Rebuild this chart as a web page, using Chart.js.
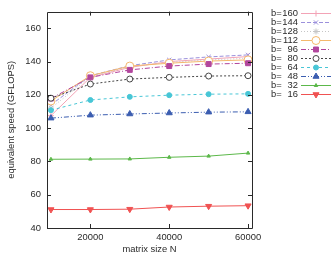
<!DOCTYPE html>
<html>
<head>
<meta charset="utf-8">
<script src="https://cdn.jsdelivr.net/npm/chart.js@4/dist/chart.umd.min.js"></script>
<style>
  html, body { margin: 0; padding: 0; background: #fff; }
  #wrap { width: 333px; height: 253px; }
</style>
</head>
<body>
<div id="wrap"><canvas id="speedChart" width="333" height="253"></canvas></div>
<script>
// matrix sizes on the x axis
var matrix_sizes = [10000, 20000, 30000, 40000, 50000, 60000];
var block_labels = ["b=160", "b=144", "b=128", "b=112", "b= 96", "b= 80", "b= 64", "b= 48", "b= 32", "b= 16"];

// equivalent speed (GFLOPS), one list per block size
var b160 = [107.5, 130.5, 136.5, 140.0, 141.5, 143.0];
var b144 = [114.0, 131.5, 137.5, 141.0, 142.8, 144.0];
var b128 = [112.0, 131.0, 137.0, 139.5, 141.0, 142.0];
var b112 = [116.3, 131.5, 137.3, 139.0, 140.3, 141.0];
var b96  = [117.8, 130.5, 135.0, 137.3, 138.5, 139.0];
var b80  = [118.0, 126.5, 129.5, 130.5, 131.3, 131.5];
var b64  = [110.8, 116.9, 118.8, 119.8, 120.4, 120.6];
var b48  = [106.0, 107.8, 108.5, 109.1, 109.6, 109.8];
var b32  = [81.3, 81.4, 81.5, 82.5, 83.2, 85.0];
var b16  = [51.1, 51.1, 51.3, 52.6, 53.1, 53.4];

var x_ticks = [20000, 40000, 60000];
var y_ticks = [40, 60, 80, 100, 120, 140, 160];

var series_values = [b160, b144, b128, b112, b96, b80, b64, b48, b32, b16];

// look of each series (gnuplot-like)
var styles = [
    {color: "#f3a3b6", dash: [],            point: "cross",    radius: 3,   fill: "#f3a3b6", rot: 0},
    {color: "#9b90dc", dash: [4, 2],        point: "crossRot", radius: 3,   fill: "#9b90dc", rot: 0},
    {color: "#c6c6c6", dash: [1, 2],        point: "star",     radius: 3,   fill: "#c6c6c6", rot: 0},
    {color: "#f4b86c", dash: [],            point: "circle",   radius: 4,   fill: "#ffffff", rot: 0},
    {color: "#b2469d", dash: [5, 2, 1, 2],  point: "rect",     radius: 3.5, fill: "#b2469d", rot: 0},
    {color: "#454545", dash: [2, 2],        point: "circle",   radius: 3,   fill: "#ffffff", rot: 0},
    {color: "#48c6d6", dash: [3, 3],        point: "circle",   radius: 2.5, fill: "#48c6d6", rot: 0},
    {color: "#3b5db0", dash: [5, 2, 1, 2, 1, 2], point: "triangle", radius: 3.5, fill: "#3b5db0", rot: 0},
    {color: "#5cb84a", dash: [],            point: "triangle", radius: 2,   fill: "#5cb84a", rot: 0},
    {color: "#f05252", dash: [],            point: "triangle", radius: 3.5, fill: "#f05252", rot: 180}
];

var font_family = '"Liberation Sans", Arial, Helvetica, sans-serif';
var text_color = "#2a2a2a";

var datasets = [];
for (var i = 0; i < series_values.length; i++) {
    var s = styles[i];
    var points = [];
    for (var j = 0; j < matrix_sizes.length; j++) {
        points.push({x: matrix_sizes[j], y: series_values[i][j]});
    }
    datasets.push({
        label: block_labels[i],
        data: points,
        borderColor: s.color,
        borderWidth: 1,
        borderDash: s.dash,
        backgroundColor: s.fill,
        pointStyle: s.point,
        pointRadius: s.radius,
        pointRotation: s.rot,
        pointBorderColor: s.color,
        pointBackgroundColor: s.fill,
        pointBorderWidth: 1,
        tension: 0,
        fill: false,
        order: series_values.length - i
    });
}

// box round the plot with inward ticks on all four sides
var framePlugin = {
    id: "frame",
    afterDatasetsDraw: function(chart) {
        var ctx = chart.ctx;
        var area = chart.chartArea;
        var xs = chart.scales.x, ys = chart.scales.y;
        var len = 4;
        ctx.save();
        ctx.strokeStyle = "#2a2a2a";
        ctx.lineWidth = 1;
        ctx.setLineDash([]);
        ctx.beginPath();
        ctx.rect(Math.round(area.left) + 0.5, Math.round(area.top) + 0.5,
                 Math.round(area.right - area.left), Math.round(area.bottom - area.top));
        for (var i = 0; i < x_ticks.length; i++) {
            var px = Math.round(xs.getPixelForValue(x_ticks[i])) + 0.5;
            ctx.moveTo(px, area.bottom); ctx.lineTo(px, area.bottom - len);
            ctx.moveTo(px, area.top); ctx.lineTo(px, area.top + len);
        }
        for (var k = 0; k < y_ticks.length; k++) {
            var py = Math.round(ys.getPixelForValue(y_ticks[k])) + 0.5;
            ctx.moveTo(area.left, py); ctx.lineTo(area.left + len, py);
            ctx.moveTo(area.right, py); ctx.lineTo(area.right - len, py);
        }
        ctx.stroke();
        ctx.restore();
    }
};

// gnuplot style key: label on the left, line sample with marker on the right
var keyPlugin = {
    id: "gnuKey",
    afterDraw: function(chart) {
        var ctx = chart.ctx;
        var textLeft = 271, numRight = 298, lineStart = 301, lineEnd = 331;
        ctx.save();
        ctx.font = "9.4px " + font_family;
        ctx.textBaseline = "middle";
        chart.data.datasets.forEach(function(ds, i) {
            var y = 13 + i * 9.05;
            var num = ds.label.replace("b=", "").trim();
            ctx.fillStyle = text_color;
            ctx.textAlign = "left";
            ctx.fillText("b=", textLeft, y);
            ctx.textAlign = "right";
            ctx.fillText(num, numRight, y);

            ctx.strokeStyle = ds.borderColor;
            ctx.lineWidth = 1;
            ctx.setLineDash(ds.borderDash);
            ctx.beginPath();
            ctx.moveTo(lineStart, Math.round(y) + 0.5);
            ctx.lineTo(lineEnd, Math.round(y) + 0.5);
            ctx.stroke();

            ctx.setLineDash([]);
            ctx.fillStyle = ds.pointBackgroundColor;
            ctx.strokeStyle = ds.pointBorderColor;
            Chart.helpers.drawPoint(ctx, {
                pointStyle: ds.pointStyle,
                radius: ds.pointRadius,
                rotation: ds.pointRotation,
                borderWidth: 1
            }, (lineStart + lineEnd) / 2, Math.round(y) + 0.5);
        });
        ctx.restore();
    }
};

var ctx = document.getElementById("speedChart").getContext("2d");
var speedChart = new Chart(ctx, {
    type: "line",
    data: {datasets: datasets},
    options: {
        responsive: false,
        animation: false,
        layout: {padding: {top: 8, right: 81, left: 0, bottom: 0}},
        plugins: {
            legend: {display: false},
            tooltip: {enabled: false}
        },
        scales: {
            x: {
                type: "linear",
                min: 9000,
                max: 61000,
                grid: {display: false, drawTicks: false},
                border: {display: false},
                afterBuildTicks: function(scale) {
                    scale.ticks = x_ticks.map(function(v) { return {value: v}; });
                },
                afterFit: function(scale) { scale.height = 25; },
                ticks: {
                    padding: 4,
                    maxRotation: 0,
                    color: text_color,
                    font: {family: font_family, size: 9.4},
                    callback: function(v) { return String(v); }
                },
                title: {
                    display: true,
                    text: "matrix size N",
                    color: text_color,
                    font: {family: font_family, size: 9.4},
                    padding: {top: 0, bottom: -2}
                }
            },
            y: {
                min: 40,
                max: 170,
                grid: {display: false, drawTicks: false},
                border: {display: false},
                afterBuildTicks: function(scale) {
                    scale.ticks = y_ticks.map(function(v) { return {value: v}; });
                },
                afterFit: function(scale) { scale.width = 47; },
                ticks: {
                    padding: 6,
                    color: text_color,
                    font: {family: font_family, size: 9.4}
                },
                title: {
                    display: true,
                    text: "equivalent speed (GFLOPS)",
                    color: text_color,
                    font: {family: font_family, size: 9.4},
                    padding: {top: 6, bottom: 0}
                }
            }
        }
    },
    plugins: [framePlugin, keyPlugin]
});
</script>
</body>
</html>
